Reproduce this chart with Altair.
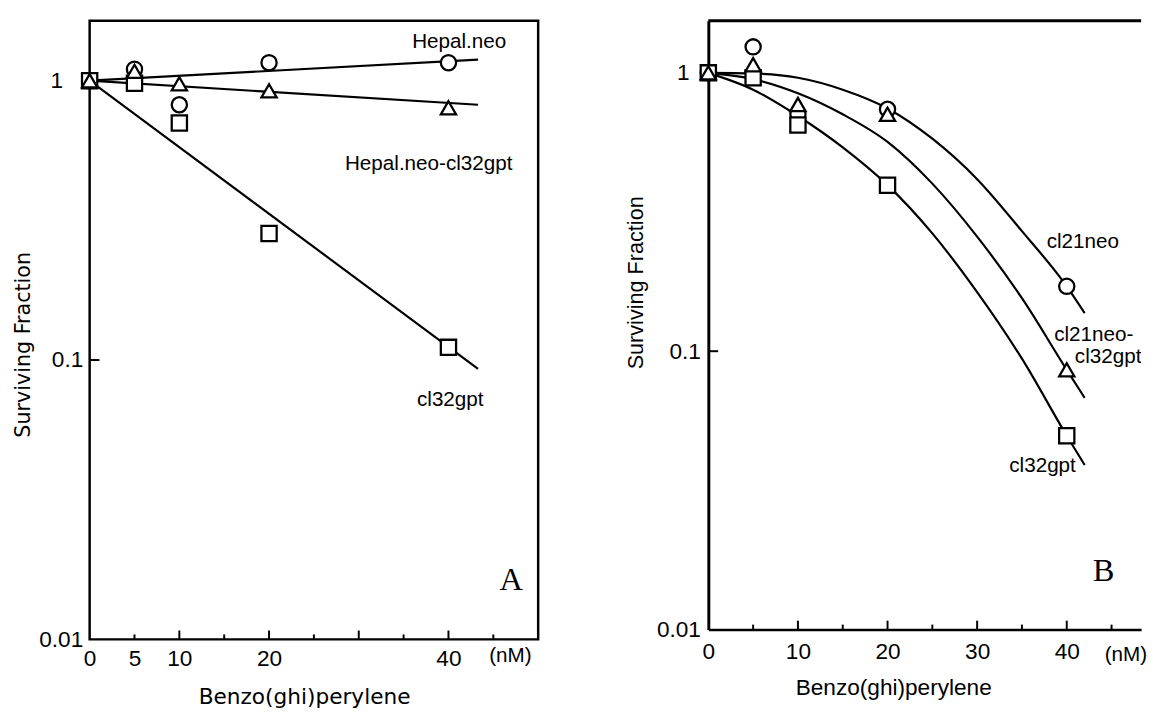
import altair as alt
import pandas as pd

# ---------------- Panel A data ----------------
dose = [0, 5, 10, 20, 40]
a_hepa_neo = [1.0, 1.10, 0.82, 1.16, 1.16]
a_hepa_neo_gpt = [1.0, 1.08, 0.975, 0.92, 0.80]
a_cl32gpt = [1.0, 0.98, 0.705, 0.284, 0.111]

a_fit_dose = [0, 43.3]
a_fit_hepa_neo = [1.0, 1.19]
a_fit_hepa_neo_gpt = [1.0, 0.82]
a_fit_cl32gpt = [1.0, 0.093]

# ---------------- Panel B data ----------------
b_cl21neo = [1.0, 1.24, 0.71, 0.74, 0.171]
b_cl21neo_gpt = [1.0, 1.07, 0.77, 0.71, 0.0857]
b_cl32gpt = [1.0, 0.96, 0.65, 0.395, 0.0497]

b_fit_dose = [0, 5, 10, 15, 20, 25, 30, 35, 40, 42]
b_fit_cl21neo = [1.0, 0.995, 0.96, 0.87, 0.745, 0.58, 0.415, 0.27, 0.171, 0.137]
b_fit_cl21neo_gpt = [1.0, 0.95, 0.845, 0.71, 0.565, 0.40, 0.258, 0.155, 0.0857, 0.068]
b_fit_cl32gpt = [1.0, 0.87, 0.70, 0.54, 0.395, 0.265, 0.163, 0.094, 0.0497, 0.039]

# ---------------- axes ----------------
a_xlabels = [0, 5, 10, 20, 40]
b_xlabels = [0, 10, 20, 30, 40]
y_labels = [0.01, 0.1]
y_top_label = [1]
y_top_text = ["1"]
x_ticks_major = [10, 20, 30, 40]
x_ticks_minor = [5, 15, 25, 35, 45]
y_ticks = [0.1, 1]

# ---------------- annotations ----------------
a_text = ["Hepal.neo", "Hepal.neo-cl32gpt", "cl32gpt"]
a_text_x = [41.2, 37.8, 40.2]
a_text_y = [1.38, 0.502, 0.0717]
a_text_align = ["center", "center", "center"]

b_text = ["cl21neo", "cl21neo-", "cl32gpt", "cl32gpt"]
b_text_x = [41.8, 38.6, 40.9, 37.3]
b_text_y = [0.247, 0.114, 0.0953, 0.0386]
b_text_align = ["center", "left", "left", "center"]

panel_letters = ["A", "B"]
panel_letter_x = [47.0, 44.1]
panel_letter_y = [0.0163, 0.0162]
unit_text = "(nM)"
unit_x = [46.9, 46.6]
unit_y = [0.0087, 0.0081]

SERIES = ["neo", "neo_gpt", "gpt"]
SHAPES = ["circle", "triangle-up", "square"]
LABEL_FONT = "Liberation Sans"


def points_frame(vals_neo, vals_neo_gpt, vals_gpt):
    rows = []
    # draw order: circles, squares, triangles (triangles on top)
    for name, vals in (("neo", vals_neo), ("gpt", vals_gpt), ("neo_gpt", vals_neo_gpt)):
        for d, v in zip(dose, vals):
            rows.append({"dose": d, "sf": v, "series": name})
    return pd.DataFrame(rows)


def fit_frame(xs, f_neo, f_neo_gpt, f_gpt):
    rows = []
    for name, vals in (("neo", f_neo), ("neo_gpt", f_neo_gpt), ("gpt", f_gpt)):
        for d, v in zip(xs, vals):
            rows.append({"dose": d, "sf": v, "series": name})
    return pd.DataFrame(rows)


def panel(pts, fit, xdom, ydom, width, height, xlabels, xaxis_kw, yaxis_kw,
          framed, ann, letter_i, one_x):
    xs = alt.Scale(domain=xdom, nice=False, zero=False)
    ys = alt.Scale(type="log", domain=ydom, nice=False)
    x_enc = alt.X("dose:Q", scale=xs, axis=alt.Axis(
        values=xlabels, ticks=False, grid=False, labelFontSize=23,
        labelFont=LABEL_FONT, labelColor="black", titleColor="black",
        titleFontWeight="normal", labelFlush=False, **xaxis_kw))
    y_enc = alt.Y("sf:Q", scale=ys, axis=alt.Axis(
        values=y_labels, format="~g", ticks=False, grid=False,
        labelFontSize=23, labelFont=LABEL_FONT, labelColor="black",
        titleColor="black", titleFontWeight="normal", labelFlush=False,
        title="Surviving Fraction", **yaxis_kw))

    lines = alt.Chart(fit).mark_line(color="black", strokeWidth=2.2,
                                     interpolate="monotone").encode(
        x=x_enc, y=y_enc, detail="series:N")
    points = alt.Chart(pts).mark_point(filled=True, fill="white", stroke="black",
                                       strokeWidth=2.3, size=240, opacity=1).encode(
        x="dose:Q", y="sf:Q",
        shape=alt.Shape("series:N", scale=alt.Scale(domain=SERIES, range=SHAPES),
                        legend=None))

    tmaj = alt.Chart(pd.DataFrame({"t": x_ticks_major})).mark_rule(
        color="black", strokeWidth=2).encode(
        x="t:Q", y=alt.value(height), y2=alt.value(height - 9))
    tmin = alt.Chart(pd.DataFrame({"t": x_ticks_minor})).mark_rule(
        color="black", strokeWidth=2).encode(
        x="t:Q", y=alt.value(height), y2=alt.value(height - 5))
    tyy = alt.Chart(pd.DataFrame({"t": y_ticks})).mark_rule(
        color="black", strokeWidth=2).encode(
        y="t:Q", x=alt.value(0), x2=alt.value(10))
    one = alt.Chart(pd.DataFrame({"v": y_top_label, "text": y_top_text})).mark_text(
        font=LABEL_FONT, fontSize=23, color="black", align="right",
        baseline="middle").encode(y="v:Q", x=alt.value(one_x), text="text:N")

    tx = pd.DataFrame({"x": ann[1], "y": ann[2], "text": ann[0], "align": ann[3]})
    layers = [lines, tmaj, tmin, tyy, one]
    for al in ("center", "left"):
        sub = tx[tx["align"] == al]
        if len(sub):
            layers.append(alt.Chart(sub).mark_text(
                font=LABEL_FONT, fontSize=21, color="black", align=al,
                baseline="middle", clip=True).encode(x="x:Q", y="y:Q", text="text:N"))
    letter = alt.Chart(pd.DataFrame({
        "x": [panel_letter_x[letter_i]], "y": [panel_letter_y[letter_i]],
        "text": [panel_letters[letter_i]]})).mark_text(
        font="Liberation Serif", fontSize=33, color="black",
        baseline="middle").encode(x="x:Q", y="y:Q", text="text:N")
    unit = alt.Chart(pd.DataFrame({
        "x": [unit_x[letter_i]], "y": [unit_y[letter_i]], "text": [unit_text]})).mark_text(
        font=LABEL_FONT, fontSize=21, color="black", baseline="middle").encode(
        x="x:Q", y="y:Q", text="text:N")
    layers += [letter, unit]
    if not framed:
        top = alt.Chart(pd.DataFrame({"t": [0]})).mark_rule(
            color="black", strokeWidth=3).encode(
            x=alt.value(0), x2=alt.value(width), y=alt.value(0))
        layers.append(top)
    layers.append(points)

    view = (alt.ViewBackground(stroke="black", strokeWidth=2.5) if framed
            else alt.ViewBackground(stroke="transparent", strokeWidth=0))
    return alt.layer(*layers).properties(width=width, height=height, view=view)


pts_a = points_frame(a_hepa_neo, a_hepa_neo_gpt, a_cl32gpt)
fit_a = fit_frame(a_fit_dose, a_fit_hepa_neo, a_fit_hepa_neo_gpt, a_fit_cl32gpt)
pts_b = points_frame(b_cl21neo, b_cl21neo_gpt, b_cl32gpt)
fit_b = fit_frame(b_fit_dose, b_fit_cl21neo, b_fit_cl21neo_gpt, b_fit_cl32gpt)

chart_a = panel(
    pts_a, fit_a, [0, 50], [0.01, 1.64], 456, 629, a_xlabels,
    dict(domain=False, labelPadding=9, title="Benzo(ghi)perylene",
         titleFont="DejaVu Sans", titleFontSize=22, titlePadding=16, titleX=218),
    dict(domain=False, labelPadding=7, titleFont="DejaVu Sans", titleFontSize=21,
         titlePadding=5, titleY=329),
    True, (a_text, a_text_x, a_text_y, a_text_align), 0, -27)

chart_b = panel(
    pts_b, fit_b, [0, 48.3], [0.01, 1.54], 440, 619, b_xlabels,
    dict(domain=True, domainColor="black", domainWidth=2.5, labelPadding=11,
         title="Benzo(ghi)perylene", titleFont=LABEL_FONT, titleFontSize=23,
         titlePadding=14, titleX=188),
    dict(domain=True, domainColor="black", domainWidth=3, labelPadding=8,
         titleFont=LABEL_FONT, titleFontSize=22, titlePadding=9, titleY=266),
    False, (b_text, b_text_x, b_text_y, b_text_align), 1, -19)

chart = alt.hconcat(chart_a, chart_b, spacing=86).properties(
    padding={"left": 3, "top": 5, "right": 0, "bottom": 0},
    background="white",
)

chart.save("out.html", embed_options={"renderer": "svg", "actions": False})
